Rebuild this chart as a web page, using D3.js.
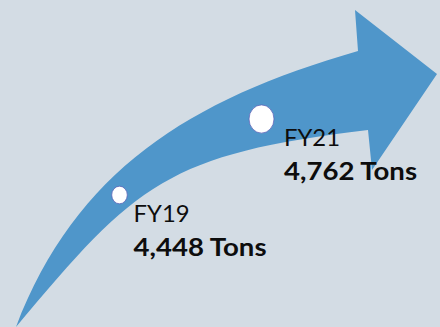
<!DOCTYPE html>
<html>
<head>
<meta charset="utf-8">
<script src="https://cdn.jsdelivr.net/npm/d3@7"></script>
<style>
  html, body { margin: 0; padding: 0; background: #d3dce4; }
  svg { display: block; }
</style>
</head>
<body>
<script>
// data
var yearLabels = ['FY19', 'FY21'];
var fiscalYears = [2019, 2021];
var tons = [4448, 4762];
var valueLabels = ['4,448 Tons', '4,762 Tons'];

var width = 440, height = 327;

// layout / style
var bgColor = '#d3dce4';
var arrowColor = '#4f96ca';
var textColor = '#0d0d0d';
var markerR = [7.8, 12.5];
var lineGap = 34;
var yearTextWidth = 56;
var valueTextWidth = 133;

var svg = d3.select('body')
    .append('svg')
    .attr('width', width)
    .attr('height', height)
    .style('background-color', bgColor);

var x = d3.scaleLinear().domain(fiscalYears).range([119.5, 261.5]);
var y = d3.scaleLinear().domain(tons).range([195, 119]);

// decorative growth arrow: two bezier edges plus the head
var arrow = d3.path();
arrow.moveTo(16, 327);
arrow.bezierCurveTo(76, 171, 188, 100, 358, 51);   // upper edge
arrow.lineTo(355, 10);
arrow.lineTo(437, 74);
arrow.lineTo(372, 170);
arrow.lineTo(368, 130);
arrow.bezierCurveTo(168, 154, 136, 183, 16, 327);  // lower edge
arrow.closePath();

svg.append('path')
    .attr('d', arrow.toString())
    .attr('fill', arrowColor);

var pts = fiscalYears.map(function (fy, i) {
    return { fy: fy, tons: tons[i], year: yearLabels[i], label: valueLabels[i], r: markerR[i] };
});

svg.selectAll('ellipse.marker')
    .data(pts)
    .enter()
    .append('ellipse')
    .attr('class', 'marker')
    .attr('cx', function (d) { return x(d.fy); })
    .attr('cy', function (d) { return y(d.tons); })
    .attr('rx', function (d) { return d.r; })
    .attr('ry', function (d) { return d.r * 1.13; })
    .attr('fill', '#ffffff')
    .attr('stroke', '#5a63b8')
    .attr('stroke-width', 0.8);

var labels = svg.selectAll('g.label')
    .data(pts)
    .enter()
    .append('g')
    .attr('class', 'label')
    .attr('transform', function (d) {
        return 'translate(' + (x(d.fy) + d.r * 1.8) + ',' + (y(d.tons) + 26.5) + ')';
    });

labels.append('text')
    .text(function (d) { return d.year; })
    .attr('font-family', 'Lato, "Open Sans", sans-serif')
    .attr('font-size', 24)
    .attr('fill', textColor)
    .attr('textLength', yearTextWidth)
    .attr('lengthAdjust', 'spacingAndGlyphs');

labels.append('text')
    .text(function (d) { return d.label; })
    .attr('y', lineGap)
    .attr('font-family', 'Lato, "Open Sans", sans-serif')
    .attr('font-weight', 'bold')
    .attr('font-size', 24)
    .attr('fill', textColor)
    .attr('textLength', valueTextWidth)
    .attr('lengthAdjust', 'spacingAndGlyphs');
</script>
</body>
</html>
